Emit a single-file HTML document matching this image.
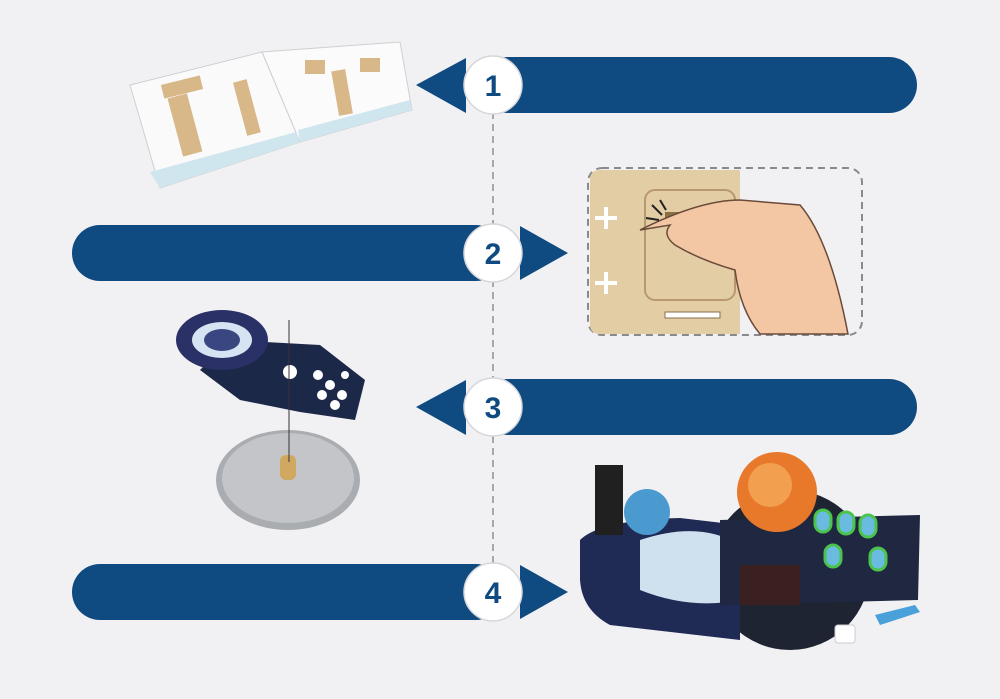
<!DOCTYPE html>
<html><head><meta charset="utf-8"><style>
html,body{margin:0;padding:0;background:#f1f1f3;}
svg{display:block}
text{font-family:"Liberation Sans",sans-serif;font-weight:bold}
</style></head><body>
<svg width="1000" height="699" viewBox="0 0 1000 699" xmlns="http://www.w3.org/2000/svg">
<rect width="1000" height="699" fill="#f1f1f3"/>
<!-- dashed line -->
<line x1="493" y1="112" x2="493" y2="566" stroke="#a8a8ac" stroke-width="2" stroke-dasharray="7,5"/>

<!-- booklet -->
<g>
<polygon points="130,85 262,52 300,142 160,188" fill="#fafafa" stroke="#cfcfd4"/>
<polygon points="262,52 400,42 412,110 300,142" fill="#fbfbfb" stroke="#cfcfd4"/>
<polygon points="150,172 296,132 300,142 160,188" fill="#cfe6ee"/>
<polygon points="298,130 410,100 412,110 300,142" fill="#cfe6ee"/>
<rect x="175" y="95" width="20" height="60" fill="#d8b888" transform="rotate(-15 185 125)"/>
<rect x="240" y="80" width="14" height="55" fill="#d8b888" transform="rotate(-15 247 108)"/>
<rect x="335" y="70" width="14" height="45" fill="#d8b888" transform="rotate(-10 342 92)"/>
<rect x="305" y="60" width="20" height="14" fill="#d8b888"/>
<rect x="360" y="58" width="20" height="14" fill="#d8b888"/>
<rect x="162" y="80" width="40" height="14" fill="#d8b888" transform="rotate(-14 182 87)"/>
</g>

<!-- puzzle card -->
<g>
<rect x="588" y="168" width="274" height="167" rx="14" fill="#f1f1f3" stroke="#8a8a8e" stroke-width="2" stroke-dasharray="7,5"/>
<path d="M590 180 Q590 170 600 170 L740 170 L740 334 L600 334 Q590 334 590 324 Z" fill="#e3cda5"/>
<rect x="645" y="190" width="90" height="110" rx="10" fill="none" stroke="#b89870" stroke-width="2"/>
<rect x="665" y="212" width="55" height="6" fill="#8a6e48"/>
<rect x="665" y="312" width="55" height="6" fill="#fff" stroke="#8a6e48"/>
<path d="M595 218 h22 M606 207 v22 M595 283 h22 M606 272 v22" stroke="#fff" stroke-width="4"/>
<path d="M640 230 Q700 200 740 200 L800 205 Q830 240 848 334 L760 334 Q740 310 735 270 Q700 260 675 245 Q662 235 670 225 Z" fill="#f4c7a4" stroke="#6a4a3a" stroke-width="1.5"/>
<path d="M652 205 l10 10 M646 218 l13 2 M660 200 l6 10" stroke="#222" stroke-width="2"/>
</g>

<!-- disk assembly -->
<g>
<ellipse cx="288" cy="480" rx="72" ry="50" fill="#a9acb0"/>
<ellipse cx="288" cy="478" rx="66" ry="45" fill="#c3c5c8"/>
<rect x="280" y="455" width="16" height="25" rx="6" fill="#d0a860"/>
<path d="M230 340 L320 345 L365 380 L355 420 L300 412 L240 400 L200 370 Z" fill="#1c2847"/>
<circle cx="290" cy="372" r="7" fill="#fff"/>
<g fill="#fff"><circle cx="318" cy="375" r="5"/><circle cx="330" cy="385" r="5"/><circle cx="342" cy="395" r="5"/><circle cx="322" cy="395" r="5"/><circle cx="335" cy="405" r="5"/><circle cx="345" cy="375" r="4"/></g>
<ellipse cx="222" cy="340" rx="46" ry="30" fill="#2a3166"/>
<ellipse cx="222" cy="340" rx="30" ry="18" fill="#d6e3f2"/>
<ellipse cx="222" cy="340" rx="18" ry="11" fill="#3a4680"/>
<line x1="289" y1="320" x2="289" y2="462" stroke="#333" stroke-width="1"/>
</g>

<!-- solar system model -->
<g>
<circle cx="790" cy="570" r="80" fill="#1e2432"/>
<path d="M580 540 Q600 520 680 518 L740 525 L740 640 L610 625 Q582 610 580 580 Z" fill="#1f2a55"/>
<path d="M640 540 Q700 520 740 545 L740 600 Q690 610 640 590 Z" fill="#cfe0ef"/>
<path d="M720 520 L920 515 L918 600 L720 605 Z" fill="#1f2840"/>
<circle cx="777" cy="492" r="40" fill="#e8782a"/>
<circle cx="770" cy="485" r="22" fill="#f2a050"/>
<circle cx="647" cy="512" r="23" fill="#4a9ad0"/>
<rect x="595" y="465" width="28" height="70" fill="#202020"/>
<rect x="740" y="565" width="60" height="40" fill="#3a2020"/>
<g fill="#6abbe0" stroke="#4cc34c" stroke-width="3"><rect x="815" y="510" width="16" height="22" rx="8"/><rect x="838" y="512" width="16" height="22" rx="8"/><rect x="860" y="515" width="16" height="22" rx="8"/><rect x="825" y="545" width="16" height="22" rx="8"/><rect x="870" y="548" width="16" height="22" rx="8"/></g>
<rect x="835" y="625" width="20" height="18" rx="3" fill="#fff" stroke="#ccc"/>
<path d="M875 615 L915 605 L920 612 L880 625 Z" fill="#4aa0d8"/>
</g>

<!-- banners -->
<g fill="#0f4a80">
<!-- 1 -->
<rect x="480" y="57" width="437" height="56" rx="28"/>
<polygon points="416,85 466,58 466,113"/>
<!-- 2 -->
<rect x="72" y="225" width="432" height="56" rx="28"/>
<polygon points="568,253 520,226 520,280"/>
<!-- 3 -->
<rect x="480" y="379" width="437" height="56" rx="28"/>
<polygon points="416,407 466,380 466,435"/>
<!-- 4 -->
<rect x="72" y="564" width="432" height="56" rx="28"/>
<polygon points="568,592 520,565 520,619"/>
</g>
<g fill="#fff" stroke="#d6d6da" stroke-width="1.5">
<circle cx="493" cy="85" r="29"/>
<circle cx="493" cy="253" r="29"/>
<circle cx="493" cy="407" r="29"/>
<circle cx="493" cy="592" r="29"/>
</g>
<g fill="#0f4a80" font-size="30" text-anchor="middle">
<text x="493" y="96">1</text>
<text x="493" y="264">2</text>
<text x="493" y="418">3</text>
<text x="493" y="603">4</text>
</g>
</svg>
</body></html>
